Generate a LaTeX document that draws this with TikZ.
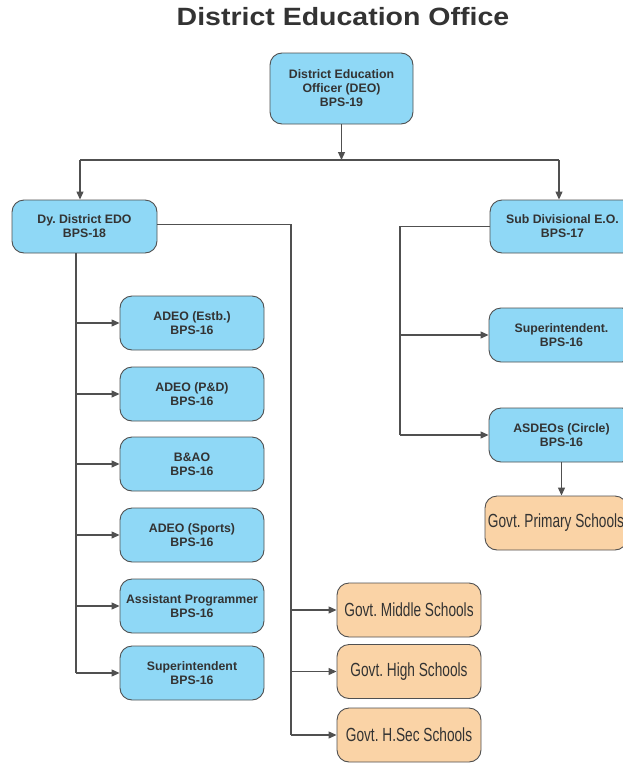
\documentclass[tikz,border=0pt]{standalone}
\usepackage{fontspec}
\setmainfont{Liberation Sans}
\newfontfamily\narrowfont[FakeStretch=0.72]{Liberation Sans}
\newfontfamily\widefont[FakeStretch=1.14]{Liberation Sans}
\usetikzlibrary{arrows.meta,calc}
\definecolor{boxblue}{RGB}{143,216,246}
\definecolor{boxorange}{RGB}{250,211,166}
\definecolor{edge}{RGB}{80,80,80}
\definecolor{txt}{RGB}{51,51,51}
\frenchspacing
\begin{document}
\begin{tikzpicture}[x=1pt,y=-1pt,
  base/.style={draw=edge,line width=0.9pt,rounded corners=12pt,align=center,inner sep=0pt,text=txt},
  bluebox/.style={base,fill=boxblue,minimum width=144pt,minimum height=54pt,font=\bfseries\fontsize{12.3}{14}\selectfont},
  orangebox/.style={base,fill=boxorange,minimum width=144pt,minimum height=54pt,font=\narrowfont\fontsize{19}{21}\selectfont},
  conn/.style={draw=edge,line width=1.2pt},
  arr/.style={conn,-{Triangle[length=8pt,width=7pt]}}]
\useasboundingbox (0,0) rectangle (623,763);
\clip (0,0) rectangle (623,763);
\node[text=txt,font=\widefont\bfseries\fontsize{25}{28}\selectfont] (title) at (343,17) {District Education Office};
\node[bluebox,minimum width=143pt,minimum height=71pt] (deo) at (341.5,88.5) {District Education\\Officer (DEO)\\BPS-19};
\node[bluebox,minimum width=145pt,minimum height=53pt] (dy) at (84.5,226.5) {Dy. District EDO\\BPS-18};
\node[bluebox,minimum width=145pt,minimum height=53pt] (sub) at (562.5,226.5) {Sub Divisional E.O.\\BPS-17};
\node[bluebox] (b1) at (192,323) {ADEO (Estb.)\\BPS-16};
\node[bluebox] (b2) at (192,394) {ADEO (P\&D)\\BPS-16};
\node[bluebox] (b3) at (192,464) {B\&AO\\BPS-16};
\node[bluebox] (b4) at (192,535) {ADEO (Sports)\\BPS-16};
\node[bluebox] (b5) at (192,606) {Assistant Programmer\\BPS-16};
\node[bluebox] (b6) at (192,673) {Superintendent\\BPS-16};
\node[orangebox] (o1) at (409,610) {Govt. Middle Schools};
\node[orangebox] (o2) at (409,671.5) {Govt. High Schools};
\node[orangebox] (o3) at (409,735) {Govt. H.Sec Schools};
\node[bluebox,minimum width=145pt] (sup) at (561.5,335) {Superintendent.\\BPS-16};
\node[bluebox,minimum width=145pt] (asd) at (561.5,435) {ASDEOs (Circle)\\BPS-16};
\node[orangebox,minimum width=142pt] (prim) at (556,523) {Govt. Primary Schools};
% coordinates
\coordinate (hub) at (341.5,160);
\coordinate (hl) at (80,160);
\coordinate (hr) at (559,160);
\coordinate (tl) at (76,0);
\coordinate (tm) at (291,0);
\coordinate (tr) at (400,0);
% top
\draw[arr] (deo.south) -- (hub);
\draw[conn] (hl) -- (hr);
\draw[arr] (hl) -- (hl |- dy.north);
\draw[arr] (hr) -- (hr |- sub.north);
% left trunk
\draw[conn] (dy.south -| tl) -- (b6.west -| tl);
\foreach \b in {b1,b2,b3,b4,b5,b6} \draw[arr] (\b.west -| tl) -- (\b.west);
% middle trunk
\draw[conn] ($(dy.east)+(0,-2)$) -| (o3.west -| tm);
\foreach \b in {o1,o2,o3} \draw[arr] (\b.west -| tm) -- (\b.west);
% right trunk
\draw[conn] (sub.west) -| (asd.west -| tr);
\draw[arr] (sup.west -| tr) -- (sup.west);
\draw[arr] (asd.west -| tr) -- (asd.west);
\draw[arr] (asd.south) -- (asd.south |- prim.north);
\end{tikzpicture}
\end{document}
